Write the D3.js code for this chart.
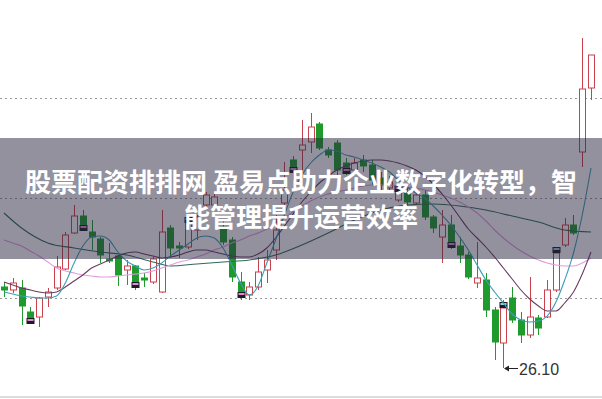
<!DOCTYPE html>
<html>
<head>
<meta charset="utf-8">
<script src="https://cdn.jsdelivr.net/npm/d3@7"></script>
<style>
  body { margin: 0; background: #fff; }
  svg { display: block; }
</style>
</head>
<body>
<svg></svg>
<script>
// daily candles, oldest first
let opens  = [27.72,27.66,27.70,27.22,27.12,27.52,27.70,28.08,28.80,29.14, 28.82,28.68,28.28,28.34,28.06,28.14,27.90,27.82,27.62,28.90, 28.54,28.52,28.86,29.36,29.36,28.92,28.66,27.82,27.56,27.72, 28.06,28.46,29.40,30.26,30.46,30.62,30.98,30.46,30.60,30.20, 30.06,30.26,30.16,29.90,29.70,29.46,29.60,29.40,29.56,29.12, 28.72,28.96,28.54,28.36,27.80,27.86,27.26,26.60,27.50,27.06, 26.76,27.10,27.12,27.66,28.56,28.96,30.42,31.70];
let closes = [27.66,27.80,27.34,27.10,27.50,27.62,28.12,28.76,29.14,28.96, 28.72,28.36,28.24,27.96,28.14,27.82,27.86,28.28,28.82,28.50, 28.50,29.00,29.12,29.56,29.52,28.62,27.92,27.62,27.72,28.02, 28.26,28.86,29.66,30.12,30.56,30.92,30.50,30.36,30.06,30.10, 30.20,30.14,29.86,29.76,29.82,29.62,29.42,29.56,29.12,28.90, 28.96,28.62,28.36,27.92,27.90,27.26,26.62,27.30,27.06,26.76, 27.12,26.90,27.66,28.40,28.96,28.80,31.68,32.36];
let highs  = [27.82,27.90,27.86,27.32,27.52,27.70,28.34,28.82,29.36,29.26, 29.06,28.72,28.60,28.36,28.26,28.16,28.00,28.32,29.26,28.96, 28.62,29.04,29.16,29.62,29.60,29.06,28.72,28.02,27.82,28.32, 28.46,29.16,30.22,30.34,31.06,31.20,31.02,30.52,30.66,30.30, 30.30,30.36,30.26,30.02,29.94,29.70,29.72,29.62,29.66,29.16, 29.26,29.16,28.72,28.42,28.62,28.00,27.32,27.46,27.72,27.22, 27.92,27.16,27.86,28.52,29.10,29.16,32.70,32.36];
let lows   = [27.52,27.60,26.96,27.00,26.92,27.32,27.66,28.06,28.78,28.86, 28.46,28.20,28.20,27.74,27.76,27.66,27.72,27.78,27.60,28.30, 28.30,28.48,28.66,29.32,29.30,28.56,27.82,27.46,27.46,27.66, 27.80,28.26,29.32,29.86,29.90,30.40,30.46,30.30,29.96,29.96, 29.96,30.02,29.76,29.66,29.62,29.42,29.32,29.36,29.06,28.80, 28.20,28.48,28.20,27.88,27.70,27.12,26.26,26.10,27.00,26.60, 26.70,26.76,27.10,27.62,28.52,28.76,30.12,31.46];

// moving averages
let ma5  = [27.62,27.58,27.54,27.52,27.50,27.50,27.54,27.80,28.20,28.54, 28.72,28.74,28.66,28.42,28.24,28.14,28.06,28.10,28.20,28.34, 28.46,28.58,28.70,28.74,28.70,28.50,28.16,27.80,27.56,27.74, 28.20,28.66,29.16,29.62,29.96,30.20,30.36,30.46,30.44,30.36, 30.32,30.26,30.20,30.12,30.02,29.86,29.72,29.60,29.50,29.34, 29.16,28.96,28.72,28.46,28.16,27.86,27.62,27.40,27.18,27.06, 27.02,27.04,27.14,27.42,27.86,28.40,29.16,30.10];
let ma10 = [27.82,27.76,27.70,27.66,27.62,27.60,27.62,27.72,27.84,27.96, 28.10,28.18,28.26,28.34,28.40,28.42,28.38,28.34,28.30,28.32, 28.36,28.42,28.46,28.46,28.42,28.38,28.34,28.32,28.32,28.38, 28.50,28.70,28.94,29.18,29.42,29.62,29.80,29.94,30.06,30.14, 30.20,30.24,30.26,30.26,30.24,30.20,30.14,30.06,29.94,29.78, 29.58,29.36,29.12,28.88,28.70,28.52,28.32,28.10,27.88,27.66, 27.48,27.34,27.24,27.24,27.40,27.62,27.98,28.42];
let ma20 = [28.66,28.60,28.54,28.44,28.34,28.22,28.10,28.04,28.00,27.96, 27.94,27.92,27.92,27.94,27.96,27.98,28.00,28.04,28.10,28.16, 28.22,28.26,28.32,28.38,28.46,28.52,28.60,28.66,28.74,28.80, 28.88,28.98,29.10,29.22,29.34,29.44,29.52,29.58,29.62,29.66, 29.70,29.74,29.76,29.76,29.76,29.74,29.72,29.70,29.66,29.62, 29.56,29.50,29.42,29.32,29.20,29.04,28.86,28.70,28.56,28.44, 28.34,28.26,28.20,28.16,28.14,28.14,28.20,28.30];
let ma30 = [[0,29.20],[2,28.90],[5,28.60],[8,28.50],[11,28.42],[14,28.36],[17,28.22],[19,28.14],[22,28.18],[25,28.22],[28,28.26],[31,28.36],[34,28.56],[37,28.80],[40,29.06],[43,29.26],[46,29.36],[49,29.38],[52,29.34],[55,29.26],[58,29.14],[61,29.02],[64,28.86],[67,28.82]];
let ma60 = [[0,30.90],[4,30.22],[8,29.76],[11,29.52],[15,29.26],[19,29.06],[22,28.98],[27,28.90],[33,28.82],[40,28.78],[48,28.74],[54,28.70],[60,28.66],[63,28.64],[65,28.72],[67,28.82]];

let gridPrices = [27.5, 29.5, 31.5];
let markIdx = [3, 9, 15, 21, 27, 33, 39, 45, 51, 57, 63];
let titleLines = ['股票配资排排网 盈易点助力企业数字化转型，智', '能管理提升运营效率'];

let svgWidth = 602, svgHeight = 399;

let svg = d3.select('svg')
            .attr('width', svgWidth)
            .attr('height', svgHeight);

let x = d3.scaleLinear().domain([0, opens.length - 1]).range([4, 591]);
let y = d3.scaleLinear().domain([25.48, 33.46]).range([svgHeight, 0]);

let bodyW = 7;

// dotted grid
svg.selectAll('line.grid')
   .data(gridPrices)
   .enter()
   .append('line')
   .attr('class', 'grid')
   .attr('x1', 0).attr('x2', svgWidth)
   .attr('y1', d => Math.round(y(d)) + 0.5)
   .attr('y2', d => Math.round(y(d)) + 0.5)
   .attr('stroke', '#9a9a9a')
   .attr('stroke-dasharray', '2,3');

// candles
let idx = d3.range(opens.length);
let up = i => closes[i] >= opens[i];
let red = '#c8414b', green = '#1f9a2d';

let candle = svg.append('g').selectAll('g')
                .data(idx)
                .enter()
                .append('g');

candle.append('line')
      .attr('x1', i => Math.round(x(i)) + 0.5)
      .attr('x2', i => Math.round(x(i)) + 0.5)
      .attr('y1', i => y(highs[i]))
      .attr('y2', i => y(lows[i]))
      .attr('stroke', i => up(i) ? red : green);

candle.append('rect')
      .attr('x', i => Math.round(x(i)) - 3 + 0.5)
      .attr('y', i => y(Math.max(opens[i], closes[i])))
      .attr('width', bodyW - 1)
      .attr('height', i => Math.max(1, Math.abs(y(opens[i]) - y(closes[i]))))
      .attr('fill', i => up(i) ? '#fff' : green)
      .attr('stroke', i => up(i) ? red : green);

// small weekly flags on some candles
let mark = svg.append('g').selectAll('g')
              .data(markIdx)
              .enter()
              .append('g')
              .attr('transform', i => 'translate(' + (Math.round(x(i)) - 3.5) + ',' +
                    (up(i) ? y(closes[i]) - 6 : y(closes[i])) + ')');
mark.append('rect').attr('width', 8).attr('height', 6).attr('fill', '#1b1b22');
mark.append('rect').attr('x', 1).attr('y', 1).attr('width', 6).attr('height', 2)
    .attr('fill', i => i > 54 ? '#8fd0e4' : '#e08ad6');

// moving averages
let lineIdx = d3.line().x((d, i) => x(i)).y(d => y(d)).curve(d3.curveMonotoneX);
let linePts = d3.line().x(d => x(d[0])).y(d => y(d[1])).curve(d3.curveMonotoneX);

let maLines = [
  {d: lineIdx(ma60), c: '#46707f'},
  {d: linePts(ma30), c: '#2f6b57'},
  {d: lineIdx(ma20), c: '#e29be0'},
  {d: lineIdx(ma10), c: '#6b3b62'},
  {d: lineIdx(ma5),  c: '#3a9fb6'}
];
svg.append('g').selectAll('path')
   .data(maLines)
   .enter()
   .append('path')
   .attr('d', d => d.d)
   .attr('fill', 'none')
   .attr('stroke', d => d.c)
   .attr('stroke-width', 1.1);

// lowest price note
let lowI = d3.minIndex(lows);
let lx = Math.round(x(lowI)), ly = Math.round(y(lows[lowI])) + 0.5;
let note = svg.append('g');
note.append('line')
    .attr('x1', lx + 2).attr('x2', lx + 15)
    .attr('y1', ly).attr('y2', ly)
    .attr('stroke', '#222');
note.append('path')
    .attr('d', 'M' + (lx + 1) + ',' + ly + 'l5,-3v6z')
    .attr('fill', '#222');
note.append('text')
    .attr('x', lx + 16)
    .attr('y', ly + 6)
    .attr('font-family', 'Liberation Sans, Arial, sans-serif')
    .attr('font-size', 16)
    .attr('fill', '#333')
    .text(lows[lowI].toFixed(2));

// bottom edge
svg.append('line')
   .attr('x1', 0).attr('x2', svgWidth)
   .attr('y1', 397).attr('y2', 397)
   .attr('stroke', '#dcdcdc')
   .attr('stroke-width', 2);

// title banner
svg.append('rect')
   .attr('x', 0).attr('y', 138)
   .attr('width', svgWidth).attr('height', 121)
   .attr('fill', 'rgb(40,36,62)')
   .attr('fill-opacity', 0.5);

svg.selectAll('text.title')
   .data(titleLines)
   .enter()
   .append('text')
   .attr('class', 'title')
   .attr('x', 301)
   .attr('y', (d, i) => 192 + i * 35)
   .attr('text-anchor', 'middle')
   .attr('font-family', 'Noto Sans CJK SC, sans-serif')
   .attr('font-weight', 'bold')
   .attr('font-size', 26)
   .attr('fill', '#fff')
   .text(d => d);
</script>
</body>
</html>
